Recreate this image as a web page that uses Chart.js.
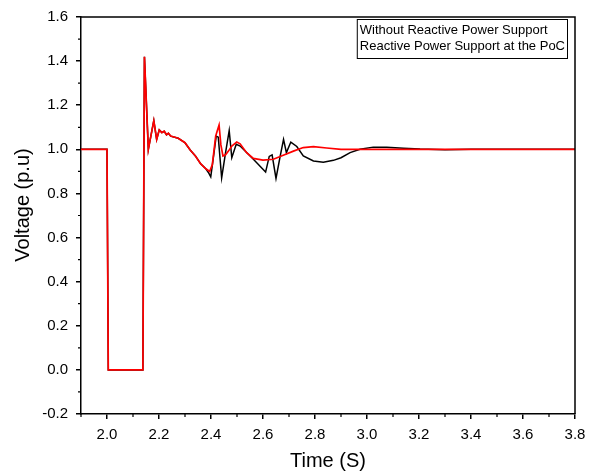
<!DOCTYPE html>
<html>
<head>
<meta charset="utf-8">
<script src="https://cdn.jsdelivr.net/npm/chart.js@4.4.1/dist/chart.umd.min.js"></script>
<style>
    html, body { margin: 0; padding: 0; background: #fff; }
    #wrap { width: 597px; height: 473px; }
</style>
</head>
<body>
<div id="wrap"><canvas id="voltage-chart" width="597" height="473"></canvas></div>
<script>
var seriesLabels = ['Without Reactive Power Support', 'Reactive Power Support at the PoC'];
var seriesColors = ['#000000', '#ff0000'];

var timeNoSupport = [1.9, 2.0, 2.005, 2.138, 2.144, 2.159, 2.18, 2.191, 2.201, 2.211, 2.22, 2.229, 2.236, 2.245,
    2.274, 2.3, 2.32, 2.34, 2.36, 2.38, 2.39, 2.399, 2.41, 2.42, 2.428, 2.441, 2.456, 2.47, 2.48, 2.497, 2.512,
    2.563, 2.61, 2.624, 2.635, 2.65, 2.665, 2.679, 2.69, 2.707, 2.73, 2.755, 2.794, 2.832, 2.871, 2.9, 2.935,
    2.973, 3.024, 3.076, 3.14, 3.204, 3.3, 3.4, 3.8];
var voltNoSupport = [1.0, 1.0, 0.0, 0.0, 1.42, 1.0, 1.13, 1.045, 1.088, 1.076, 1.082, 1.066, 1.073, 1.06,
    1.05, 1.03, 0.997, 0.97, 0.935, 0.912, 0.895, 0.875, 0.97, 1.06, 1.055, 0.871, 0.985, 1.085, 0.962, 1.023, 1.015,
    0.955, 0.897, 0.968, 0.975, 0.868, 0.962, 1.045, 0.985, 1.033, 1.013, 0.97, 0.947, 0.942, 0.95, 0.962, 0.985,
    1.0, 1.01, 1.01, 1.005, 1.001, 0.998, 1.0, 1.0];

var timeSupport = [1.9, 2.0, 2.005, 2.138, 2.144, 2.159, 2.18, 2.191, 2.201, 2.211, 2.22, 2.229, 2.236, 2.245,
    2.274, 2.3, 2.32, 2.34, 2.36, 2.38, 2.395, 2.405, 2.418, 2.423, 2.431, 2.438, 2.446, 2.456, 2.467, 2.48,
    2.499, 2.512, 2.537, 2.563, 2.6, 2.64, 2.678, 2.717, 2.755, 2.794, 2.845, 2.9, 3.0, 3.8];
var voltSupport = [1.0, 1.0, 0.0, 0.0, 1.42, 1.0, 1.13, 1.045, 1.088, 1.076, 1.082, 1.066, 1.073, 1.06,
    1.05, 1.03, 0.997, 0.97, 0.935, 0.912, 0.9, 0.93, 1.06, 1.08, 1.11, 1.02, 0.97, 0.975, 0.992, 1.015,
    1.033, 1.025, 0.985, 0.959, 0.951, 0.955, 0.973, 0.992, 1.008, 1.012, 1.006, 1.0, 1.0, 1.0];

var xTickValues = [2.0, 2.2, 2.4, 2.6, 2.8, 3.0, 3.2, 3.4, 3.6, 3.8];
var xMinorTicks = [1.9, 2.1, 2.3, 2.5, 2.7, 2.9, 3.1, 3.3, 3.5, 3.7];
var yTickValues = [-0.2, 0.0, 0.2, 0.4, 0.6, 0.8, 1.0, 1.2, 1.4, 1.6];
var yMinorTicks = [-0.1, 0.1, 0.3, 0.5, 0.7, 0.9, 1.1, 1.3, 1.5];

var xTitle = 'Time (S)';
var yTitle = 'Voltage (p.u)';

var FONT = '"Liberation Sans", Arial, sans-serif';

function toPoints(xs, ys) {
    return xs.map(function (x, i) { return { x: x, y: ys[i] }; });
}

// frame, minor ticks, axis titles and the boxed legend
var decorPlugin = {
    id: 'decor',
    afterDraw: function (chart) {
        var ctx = chart.ctx;
        var a = chart.chartArea;
        var xs = chart.scales.x;
        var ys = chart.scales.y;
        ctx.save();
        ctx.strokeStyle = '#000';
        ctx.lineWidth = 1.5;
        ctx.beginPath();
        ctx.moveTo(a.left, a.top);
        ctx.lineTo(a.right, a.top);
        ctx.lineTo(a.right, a.bottom);
        ctx.stroke();

        ctx.lineWidth = 1.2;
        ctx.beginPath();
        xMinorTicks.forEach(function (v) {
            var px = xs.getPixelForValue(v);
            ctx.moveTo(px, a.bottom);
            ctx.lineTo(px, a.bottom + 3);
        });
        yMinorTicks.forEach(function (v) {
            var py = ys.getPixelForValue(v);
            ctx.moveTo(a.left, py);
            ctx.lineTo(a.left - 3, py);
        });
        ctx.stroke();

        ctx.fillStyle = '#000';
        ctx.font = '20px ' + FONT;
        ctx.textAlign = 'center';
        ctx.textBaseline = 'alphabetic';
        ctx.fillText(xTitle, (a.left + a.right) / 2, 467);
        ctx.save();
        ctx.translate(29, 205);
        ctx.rotate(-Math.PI / 2);
        ctx.fillText(yTitle, 0, 0);
        ctx.restore();

        ctx.font = '13px ' + FONT;
        ctx.textAlign = 'left';
        var w = 0;
        var names = seriesLabels;
        names.forEach(function (n) {
            w = Math.max(w, ctx.measureText(n).width);
        });
        var boxRight = a.right - 8;
        var boxLeft = boxRight - w - 5;
        var boxTop = a.top + 2;
        ctx.lineWidth = 1;
        ctx.strokeRect(boxLeft + 0.5, boxTop + 0.5, boxRight - boxLeft, 39);
        names.forEach(function (n, i) {
            ctx.fillText(n, boxLeft + 3, boxTop + 15 + i * 16);
        });
        ctx.restore();
    }
};

var chart = new Chart(document.getElementById('voltage-chart').getContext('2d'), {
    type: 'line',
    data: {
        datasets: [
            {
                label: seriesLabels[0],
                data: toPoints(timeNoSupport, voltNoSupport),
                borderColor: seriesColors[0],
                borderWidth: 1.5,
                pointRadius: 0,
                tension: 0,
                order: 2,
            },
            {
                label: seriesLabels[1],
                data: toPoints(timeSupport, voltSupport),
                borderColor: seriesColors[1],
                borderWidth: 1.7,
                pointRadius: 0,
                tension: 0,
                order: 1,
            },
        ],
    },
    options: {
        responsive: false,
        animation: false,
        devicePixelRatio: 1,
        layout: { padding: { left: 0, top: 17, right: 22, bottom: 0 } },
        plugins: {
            legend: { display: false },
            tooltip: { enabled: false },
        },
        scales: {
            x: {
                type: 'linear',
                min: 1.9,
                max: 3.8,
                afterBuildTicks: function (s) {
                    s.ticks = xTickValues.map(function (v) { return { value: v }; });
                },
                afterFit: function (s) { s.height = 59; },
                ticks: {
                    autoSkip: false,
                    maxRotation: 0,
                    padding: 7,
                    color: '#000',
                    font: { family: FONT, size: 15 },
                    callback: function (v) { return Number(v).toFixed(1); },
                },
                grid: { drawOnChartArea: false, tickLength: 5, color: '#000', lineWidth: 1.5 },
                border: { display: true, color: '#000', width: 1.5 },
            },
            y: {
                min: -0.2,
                max: 1.6,
                afterBuildTicks: function (s) {
                    s.ticks = yTickValues.map(function (v) { return { value: v }; });
                },
                afterFit: function (s) { s.width = 81; },
                ticks: {
                    autoSkip: false,
                    padding: 8,
                    color: '#000',
                    font: { family: FONT, size: 15 },
                    callback: function (v) { return Number(v).toFixed(1); },
                },
                grid: { drawOnChartArea: false, tickLength: 5, color: '#000', lineWidth: 1.5 },
                border: { display: true, color: '#000', width: 1.5 },
            },
        },
    },
    plugins: [decorPlugin],
});
</script>
</body>
</html>
